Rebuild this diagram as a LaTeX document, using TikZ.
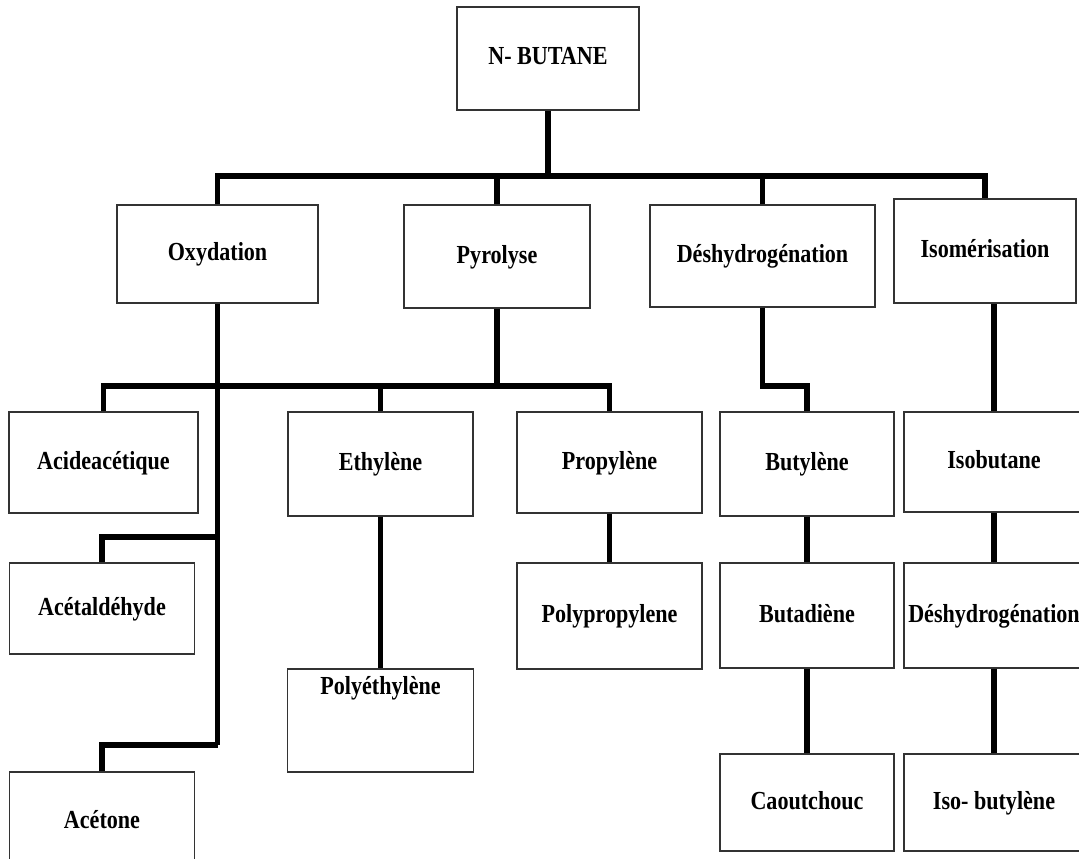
\documentclass[tikz,border=0pt]{standalone}
\usepackage{fontspec}
\setmainfont{Liberation Serif}[FakeStretch=0.85]
\usepackage{tikz}
\usetikzlibrary{positioning}
\tikzset{
  box/.style={draw=black!80, line width=1.3pt, fill=white, inner sep=0pt,
    text height=18pt, text depth=5pt,
    font=\fontsize{26}{30}\selectfont\bfseries},
  link/.style={line width=5.5pt, black}
}

\begin{document}
\begin{tikzpicture}[x=1pt, y=-1pt]
\useasboundingbox (0,0) rectangle (1079,859);
% level 0 and 1
\node[box, minimum width=182pt, minimum height=103pt] (butane) at (548,58.5) {N- BUTANE};
\node[box, minimum width=201pt, minimum height=98pt] (oxy) at (217.5,254) {Oxydation};
\node[box, minimum width=186pt, minimum height=103pt] (pyro) at (497,256.5) {Pyrolyse};
\node[box, minimum width=225pt, minimum height=102pt] (deshyd) at (762.5,256) {Déshydrogénation};
\node[box, minimum width=182pt, minimum height=104pt] (isom) at (985,251) {Isomérisation};
% level 2
\node[box, minimum width=189pt, minimum height=101pt] (acide) at (103.5,462.5) {Acideacétique};
\node[box, minimum width=185pt, minimum height=104pt] (ethyl) at (380.5,464) {Ethylène};
\node[box, minimum width=185pt, minimum height=101pt] (propyl) at (609.5,462.5) {Propylène};
\node[box, minimum width=174pt, minimum height=104pt] (butyl) at (807,464) {Butylène};
\node[box, minimum width=180pt, minimum height=100pt] (isobut) at (994,462) {Isobutane};
% level 3
\node[box, minimum width=185pt, minimum height=91pt] (acetald) at (102,608.5) {Acétaldéhyde};
\node[box, minimum width=185pt, minimum height=106pt] (polyprop) at (609.5,616) {Polypropylene};
\node[box, minimum width=174pt, minimum height=105pt] (butad) at (807,615.5) {Butadiène};
\node[box, minimum width=180pt, minimum height=105pt] (deshyd2) at (994,615.5) {Déshydrogénation};
% level 4
\node[box, minimum width=186pt, minimum height=103pt, text depth=70pt] (polyeth) at (380.5,720.5) {Polyéthylène};
\node[box, minimum width=185pt, minimum height=100pt] (acetone) at (102,822) {Acétone};
\node[box, minimum width=174pt, minimum height=97pt] (caout) at (807,802.5) {Caoutchouc};
\node[box, minimum width=180pt, minimum height=97pt] (isobutyl) at (994,802.5) {Iso- butylène};

\coordinate (bus1) at (548,176);
\coordinate (bus2) at (497,386);
\coordinate (tap1) at (217.5,537);
\coordinate (oxyend) at (217.5,745);
\coordinate (kink) at (762.5,386);

\draw[link] (butane.south) -- (bus1);
\draw[link] (oxy.north) |- (bus1);
\draw[link] (pyro.north) |- (bus1);
\draw[link] (deshyd.north) |- (bus1);
\draw[link] (isom.north) |- (bus1);

\draw[link] (pyro.south) -- (bus2);
\draw[link] (acide.north) |- (bus2);
\draw[link] (ethyl.north) |- (bus2);
\draw[link] (propyl.north) |- (bus2);
\draw[link] (oxy.south) -- (oxyend);
\draw[link] (acetald.north) |- (tap1);
\draw[link] (acetone.north) |- (oxyend);

\draw[link] (deshyd.south) -- (kink) -| (butyl.north);
\draw[link] (isobut.north) -- (isobut.north |- isom.south);

\draw[link] (ethyl.south) -- (polyeth.north);
\draw[link] (propyl.south) -- (polyprop.north);
\draw[link] (butyl.south) -- (butad.north);
\draw[link] (butad.south) -- (caout.north);
\draw[link] (isobut.south) -- (deshyd2.north);
\draw[link] (deshyd2.south) -- (isobutyl.north);
\end{tikzpicture}
\end{document}
